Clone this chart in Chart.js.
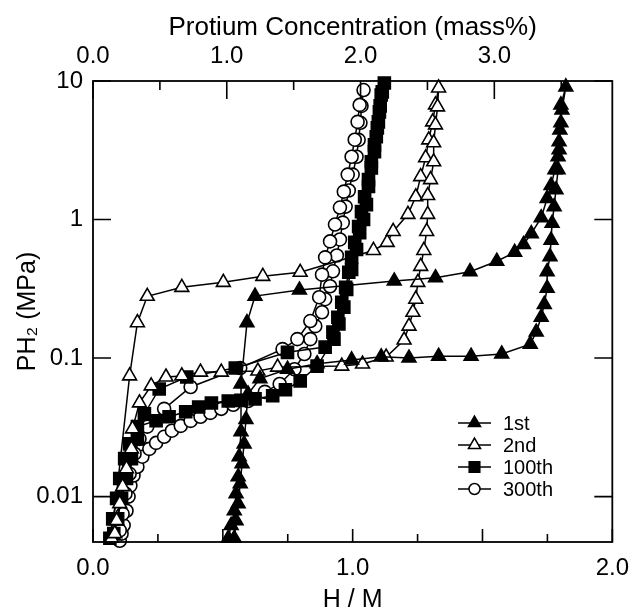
<!DOCTYPE html>
<html>
<head>
<meta charset="utf-8">
<script src="https://cdn.jsdelivr.net/npm/chart.js@4.4.0/dist/chart.umd.min.js"></script>
<style>
  html, body { margin: 0; padding: 0; background: #fff; }
</style>
</head>
<body>
<canvas id="pct" width="641" height="613"></canvas>
<script>
// PCT loops: absorption branch first, then desorption back down
const cycle1HM = [0.521, 0.532, 0.544, 0.551, 0.559, 0.563, 0.570, 0.570, 0.593, 0.624, 0.795, 1.160, 1.319, 1.452, 1.555, 1.624, 1.658, 1.688, 1.726, 1.749, 1.764, 1.779, 1.791, 1.795, 1.802, 1.802, 1.821,
                  1.806, 1.798, 1.795, 1.791, 1.783, 1.776, 1.768, 1.764, 1.760, 1.749, 1.749, 1.738, 1.726, 1.707, 1.684, 1.574, 1.456, 1.331, 1.217, 1.110, 0.996, 0.863, 0.749, 0.643, 0.597, 0.589, 0.582, 0.574, 0.567, 0.559, 0.551, 0.544];
const cycle1P = [0.0050, 0.0062, 0.0079, 0.0105, 0.0139, 0.0194, 0.0294, 0.065, 0.18, 0.28, 0.31, 0.36, 0.38, 0.42, 0.50, 0.58, 0.66, 0.79, 1.03, 1.42, 1.76, 2.29, 2.84, 3.64, 4.99, 6.72, 9.06,
                 6.18, 4.44, 3.19, 2.29, 1.64, 1.24, 0.94, 0.71, 0.54, 0.42, 0.32, 0.244, 0.197, 0.154, 0.126, 0.107, 0.103, 0.103, 0.100, 0.102, 0.097, 0.091, 0.083, 0.071, 0.055, 0.036, 0.024, 0.0173, 0.0124, 0.0089, 0.0067, 0.0050];

const cycle2HM = [0.072, 0.141, 0.171, 0.209, 0.342, 0.502, 0.654, 0.798, 1.080, 1.133, 1.156, 1.213, 1.243, 1.262, 1.281, 1.293, 1.308, 1.319, 1.331,
                  1.327, 1.319, 1.312, 1.312, 1.300, 1.289, 1.289, 1.285, 1.274, 1.262, 1.251, 1.243, 1.232, 1.217, 1.198, 1.129, 1.038, 0.958, 0.711, 0.635, 0.494, 0.414, 0.342, 0.281, 0.224, 0.179, 0.152, 0.148, 0.129, 0.114, 0.103, 0.091, 0.084];
const cycle2P = [0.0050, 0.0743, 0.18, 0.279, 0.324, 0.352, 0.389, 0.416, 0.598, 0.684, 0.82, 1.09, 1.46, 2.04, 2.79, 3.76, 5.07, 6.72, 8.91,
                 6.5, 4.82, 3.58, 2.61, 1.94, 1.49, 1.09, 0.82, 0.598, 0.459, 0.352, 0.266, 0.214, 0.170, 0.135, 0.1017, 0.0905, 0.0875, 0.086, 0.0806, 0.0792, 0.0792, 0.0743, 0.073, 0.063, 0.0475, 0.0308, 0.0221, 0.0159, 0.0118, 0.0089, 0.0067, 0.0054];

const cycle100HM = [0.065, 0.076, 0.091, 0.103, 0.122, 0.141, 0.171, 0.243, 0.293, 0.357, 0.407, 0.456, 0.521, 0.570, 0.624, 0.692, 0.741, 0.798, 0.863, 0.928, 0.947, 0.966, 0.977, 0.996, 1.015, 1.027, 1.042, 1.053, 1.061, 1.072, 1.084, 1.091, 1.099, 1.106, 1.114, 1.122,
                    1.110, 1.103, 1.095, 1.084, 1.072, 1.061, 1.046, 1.034, 1.023, 1.008, 0.996, 0.985, 0.973, 0.958, 0.943, 0.924, 0.894, 0.749, 0.548, 0.361, 0.255, 0.198, 0.171, 0.148, 0.129, 0.110, 0.095, 0.080];
const cycle100P = [0.0050, 0.0069, 0.0097, 0.0135, 0.0188, 0.024, 0.032, 0.0353, 0.0377, 0.041, 0.0443, 0.0474, 0.049, 0.0495, 0.0507, 0.0534, 0.059, 0.0684, 0.0875, 0.137, 0.176, 0.233, 0.313, 0.436, 0.608, 0.805, 1.0, 1.28, 1.73, 2.36, 3.09, 3.96, 5.07, 6.61, 8.34, 9.68,
                   7.93, 5.98, 4.59, 3.46, 2.61, 1.94, 1.46, 1.14, 0.89, 0.684, 0.533, 0.416, 0.324, 0.253, 0.197, 0.154, 0.12, 0.110, 0.0847, 0.073, 0.0598, 0.0395, 0.0261, 0.0188, 0.0135, 0.0097, 0.0069, 0.0054];

const cycle300HM = [0.103, 0.110, 0.118, 0.129, 0.137, 0.144, 0.156, 0.171, 0.190, 0.217, 0.243, 0.274, 0.304, 0.338, 0.376, 0.414, 0.452, 0.494, 0.540, 0.597, 0.662, 0.719, 0.776, 0.814, 0.837, 0.856, 0.882, 0.894, 0.913, 0.924, 0.939, 0.951, 0.962, 0.973, 0.985, 1.000, 1.015, 1.023, 1.030, 1.034, 1.042,
                    1.027, 1.019, 1.008, 0.996, 0.981, 0.966, 0.951, 0.932, 0.913, 0.894, 0.882, 0.871, 0.837, 0.787, 0.730, 0.567, 0.376, 0.274, 0.209, 0.179, 0.160, 0.141, 0.125, 0.114, 0.103];
const cycle300P = [0.0048, 0.0054, 0.0062, 0.0079, 0.0100, 0.0120, 0.0142, 0.0164, 0.0194, 0.0221, 0.0244, 0.027, 0.0299, 0.0324, 0.0352, 0.0377, 0.0402, 0.043, 0.046, 0.049, 0.057, 0.065, 0.083, 0.107, 0.137, 0.170, 0.214, 0.266, 0.33, 0.423, 0.55, 0.718, 0.95, 1.24, 1.62, 2.11, 2.84, 3.76, 4.99, 6.61, 8.6,
                   6.72, 5.07, 3.77, 2.84, 2.11, 1.59, 1.22, 0.92, 0.695, 0.533, 0.40, 0.275, 0.185, 0.137, 0.116, 0.0847, 0.0618, 0.043, 0.032, 0.0261, 0.0204, 0.0146, 0.0105, 0.0075, 0.0057];

const cycleNames = ['1st', '2nd', '100th', '300th'];
const hmTicks = [0, 0.25, 0.5, 0.75, 1.0, 1.25, 1.5, 1.75, 2.0];
const massTicks = [0, 0.5, 1.0, 1.5, 2.0, 2.5, 3.0, 3.5];
const pressureTicks = [0.01, 0.1, 1, 10];

const FONT = "'Liberation Sans', Arial, Helvetica, sans-serif";

const toPoints = (hm, p) => hm.map((x, i) => ({ x, y: p[i] }));

const markerStyles = [
    { pointStyle: 'triangle', radius: 8, fill: '#000' },
    { pointStyle: 'triangle', radius: 8, fill: '#fff' },
    { pointStyle: 'rect', radius: 8.5, fill: '#000' },
    { pointStyle: 'circle', radius: 6.5, fill: '#fff' }
];

const series = [
    toPoints(cycle1HM, cycle1P),
    toPoints(cycle2HM, cycle2P),
    toPoints(cycle100HM, cycle100P),
    toPoints(cycle300HM, cycle300P)
];

const datasets = series.map((data, i) => ({
    label: cycleNames[i],
    data,
    showLine: true,
    borderColor: '#000',
    borderWidth: 1.5,
    pointStyle: markerStyles[i].pointStyle,
    pointRadius: markerStyles[i].radius,
    pointBackgroundColor: markerStyles[i].fill,
    pointBorderColor: '#000',
    pointBorderWidth: 1.6,
    clip: false
}));

// frame, inward tick marks and the in-plot legend
const frameAndLegend = {
    id: 'frameAndLegend',
    afterDraw(chart) {
        const { ctx, chartArea: a, scales } = chart;
        ctx.save();
        ctx.strokeStyle = '#000';
        ctx.lineWidth = 1.8;
        ctx.strokeRect(a.left, a.top, a.right - a.left, a.bottom - a.top);

        ctx.lineWidth = 1.6;
        ctx.beginPath();
        hmTicks.forEach(v => {
            const x = scales.x.getPixelForValue(v);
            const len = (v * 2) % 1 === 0 ? 13 : 8;
            ctx.moveTo(x, a.bottom);
            ctx.lineTo(x, a.bottom - len);
        });
        massTicks.forEach(v => {
            const x = scales.x2.getPixelForValue(v);
            const len = v % 1 === 0 ? 18 : 9;
            ctx.moveTo(x, a.top);
            ctx.lineTo(x, a.top + len);
        });
        pressureTicks.forEach(v => {
            const y = scales.y.getPixelForValue(v);
            ctx.moveTo(a.left, y);
            ctx.lineTo(a.left + 18, y);
            ctx.moveTo(a.right, y);
            ctx.lineTo(a.right - 18, y);
        });
        ctx.stroke();

        // legend
        const lx = 458, ly = 423, rowH = 22;
        ctx.font = '20px ' + FONT;
        ctx.textBaseline = 'middle';
        ctx.textAlign = 'left';
        cycleNames.forEach((name, i) => {
            const y = ly + i * rowH;
            ctx.lineWidth = 1.5;
            ctx.strokeStyle = '#000';
            ctx.beginPath();
            ctx.moveTo(lx, y);
            ctx.lineTo(lx + 33, y);
            ctx.stroke();
            ctx.fillStyle = markerStyles[i].fill;
            Chart.helpers.drawPoint(ctx, {
                pointStyle: markerStyles[i].pointStyle,
                radius: markerStyles[i].radius - 1,
                rotation: 0,
                borderWidth: 1.5
            }, lx + 16.5, y);
            ctx.fillStyle = '#000';
            ctx.fillText(name, lx + 45, y + 1);
        });
        ctx.restore();
    }
};

new Chart(document.getElementById('pct'), {
    type: 'scatter',
    data: { datasets },
    options: {
        responsive: false,
        animation: false,
        devicePixelRatio: 1,
        layout: { padding: { left: 0, right: 22, top: 0, bottom: 0 } },
        plugins: {
            legend: { display: false },
            tooltip: { enabled: false }
        },
        scales: {
            x: {
                type: 'linear',
                position: 'bottom',
                min: 0,
                max: 2,
                grid: { display: false, drawTicks: false, tickLength: 0 },
                border: { display: false },
                afterBuildTicks: (s) => { s.ticks = hmTicks.map(value => ({ value })); },
                afterFit: (s) => { s.height = 71; },
                ticks: {
                    autoSkip: false,
                    maxRotation: 0,
                    padding: 12,
                    color: '#000',
                    font: { family: FONT, size: 24 },
                    callback: (v) => (v % 1 === 0 ? Number(v).toFixed(1) : '')
                },
                title: {
                    display: true,
                    text: 'H / M',
                    color: '#000',
                    font: { family: FONT, size: 25, lineHeight: 1 },
                    padding: { top: 0, bottom: 0 }
                }
            },
            x2: {
                type: 'linear',
                position: 'top',
                min: 0,
                max: 3.882,
                grid: { display: false, drawTicks: false, tickLength: 0 },
                border: { display: false },
                afterBuildTicks: (s) => { s.ticks = massTicks.map(value => ({ value })); },
                afterFit: (s) => { s.height = 81; },
                ticks: {
                    autoSkip: false,
                    maxRotation: 0,
                    padding: 10,
                    color: '#000',
                    font: { family: FONT, size: 24 },
                    callback: (v) => (v % 1 === 0 ? Number(v).toFixed(1) : '')
                },
                title: {
                    display: true,
                    text: 'Protium Concentration (mass%)',
                    color: '#000',
                    font: { family: FONT, size: 26, lineHeight: 1 },
                    padding: { top: 15, bottom: 0 }
                }
            },
            y: {
                type: 'logarithmic',
                position: 'left',
                min: 0.0047,
                max: 10,
                grid: { display: false, drawTicks: false, tickLength: 0 },
                border: { display: false },
                afterBuildTicks: (s) => { s.ticks = pressureTicks.map(value => ({ value })); },
                afterFit: (s) => { s.width = 93; },
                ticks: {
                    autoSkip: false,
                    padding: 10,
                    color: '#000',
                    font: { family: FONT, size: 24 },
                    callback: (v) => String(v)
                },
                title: {
                    display: true,
                    text: 'PH₂ (MPa)',
                    color: '#000',
                    font: { family: FONT, size: 25, lineHeight: 1 },
                    padding: { top: 16, bottom: 0 }
                }
            }
        }
    },
    plugins: [frameAndLegend]
});
</script>
</body>
</html>
